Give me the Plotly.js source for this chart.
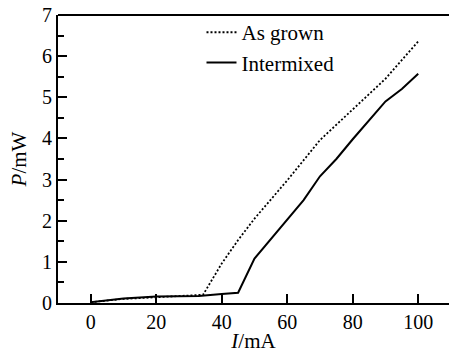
<!DOCTYPE html>
<html>
<head>
<meta charset="utf-8">
<script src="https://cdn.plot.ly/plotly-3.0.1.min.js"></script>
<style>html,body{margin:0;padding:0;background:#fff;}#chart{width:449px;height:353px;}</style>
</head>
<body>
<div id="chart"></div>
<script>
const asGrownI = [0, 10, 20, 30, 34.3, 40, 45, 50, 60, 70, 80, 90, 100];
const asGrownP = [0.02, 0.1, 0.14, 0.17, 0.2, 0.96, 1.53, 2.05, 2.98, 3.96, 4.7, 5.45, 6.36];
const interI = [0, 10, 20, 30, 33, 40, 45, 50, 55, 60, 65, 70, 75, 80, 87, 90, 95, 100];
const interP = [0.02, 0.11, 0.16, 0.18, 0.17, 0.22, 0.25, 1.08, 1.55, 2.02, 2.5, 3.08, 3.5, 3.98, 4.62, 4.9, 5.2, 5.57];
const xTicks = [0, 20, 40, 60, 80, 100];
const yTicks = [0, 1, 2, 3, 4, 5, 6, 7];

const FAM = 'Liberation Serif';
const tickFont = {family: FAM, size: 20, color: '#000'};
const titleFont = {family: FAM, size: 21, color: '#000'};
const legendFont = {family: FAM, size: 21, color: '#000'};

const traces = [
  {x: asGrownI, y: asGrownP, name: 'As grown', mode: 'lines', line: {color: '#000', width: 1.8, dash: '2px,2px'}},
  {x: interI, y: interP, name: 'Intermixed', mode: 'lines', line: {color: '#000', width: 2}}
];

const layout = {
  width: 449, height: 353,
  margin: {l: 58, r: 0, t: 15, b: 50},
  paper_bgcolor: '#fff', plot_bgcolor: '#fff',
  font: {family: FAM, size: 20, color: '#000'},
  showlegend: true,
  legend: {x: 0.367, y: 1.01, xanchor: 'left', yanchor: 'top', bgcolor: 'rgba(0,0,0,0)', font: legendFont, tracegroupgap: 0},
  xaxis: {
    range: [-10, 109.4], tickvals: xTicks, ticktext: xTicks.map(String),
    ticks: 'inside', ticklen: 9, tickwidth: 2, tickcolor: '#000',
    showline: true, linewidth: 2, linecolor: '#000', showgrid: false, zeroline: false,
    tickfont: tickFont,
    title: {text: '<i>I</i>/mA', font: titleFont, standoff: 2}
  },
  yaxis: {
    range: [0, 7], tickvals: yTicks, ticktext: yTicks.map(String),
    ticks: 'inside', ticklen: 9, tickwidth: 2, tickcolor: '#000',
    minor: {dtick: 0.5, ticks: 'inside', ticklen: 6, tickwidth: 2, tickcolor: '#000'},
    showline: true, linewidth: 2, linecolor: '#000', showgrid: false, zeroline: false,
    tickfont: tickFont,
    title: {text: '<i>P</i>/mW', font: titleFont, standoff: 10}
  },
  shapes: [
    {type: 'line', xref: 'paper', yref: 'paper', x0: 0, x1: 1, y0: 1, y1: 1, line: {color: '#000', width: 2}}
  ]
};

Plotly.newPlot('chart', traces, layout, {displayModeBar: false, staticPlot: true});
</script>
</body>
</html>
